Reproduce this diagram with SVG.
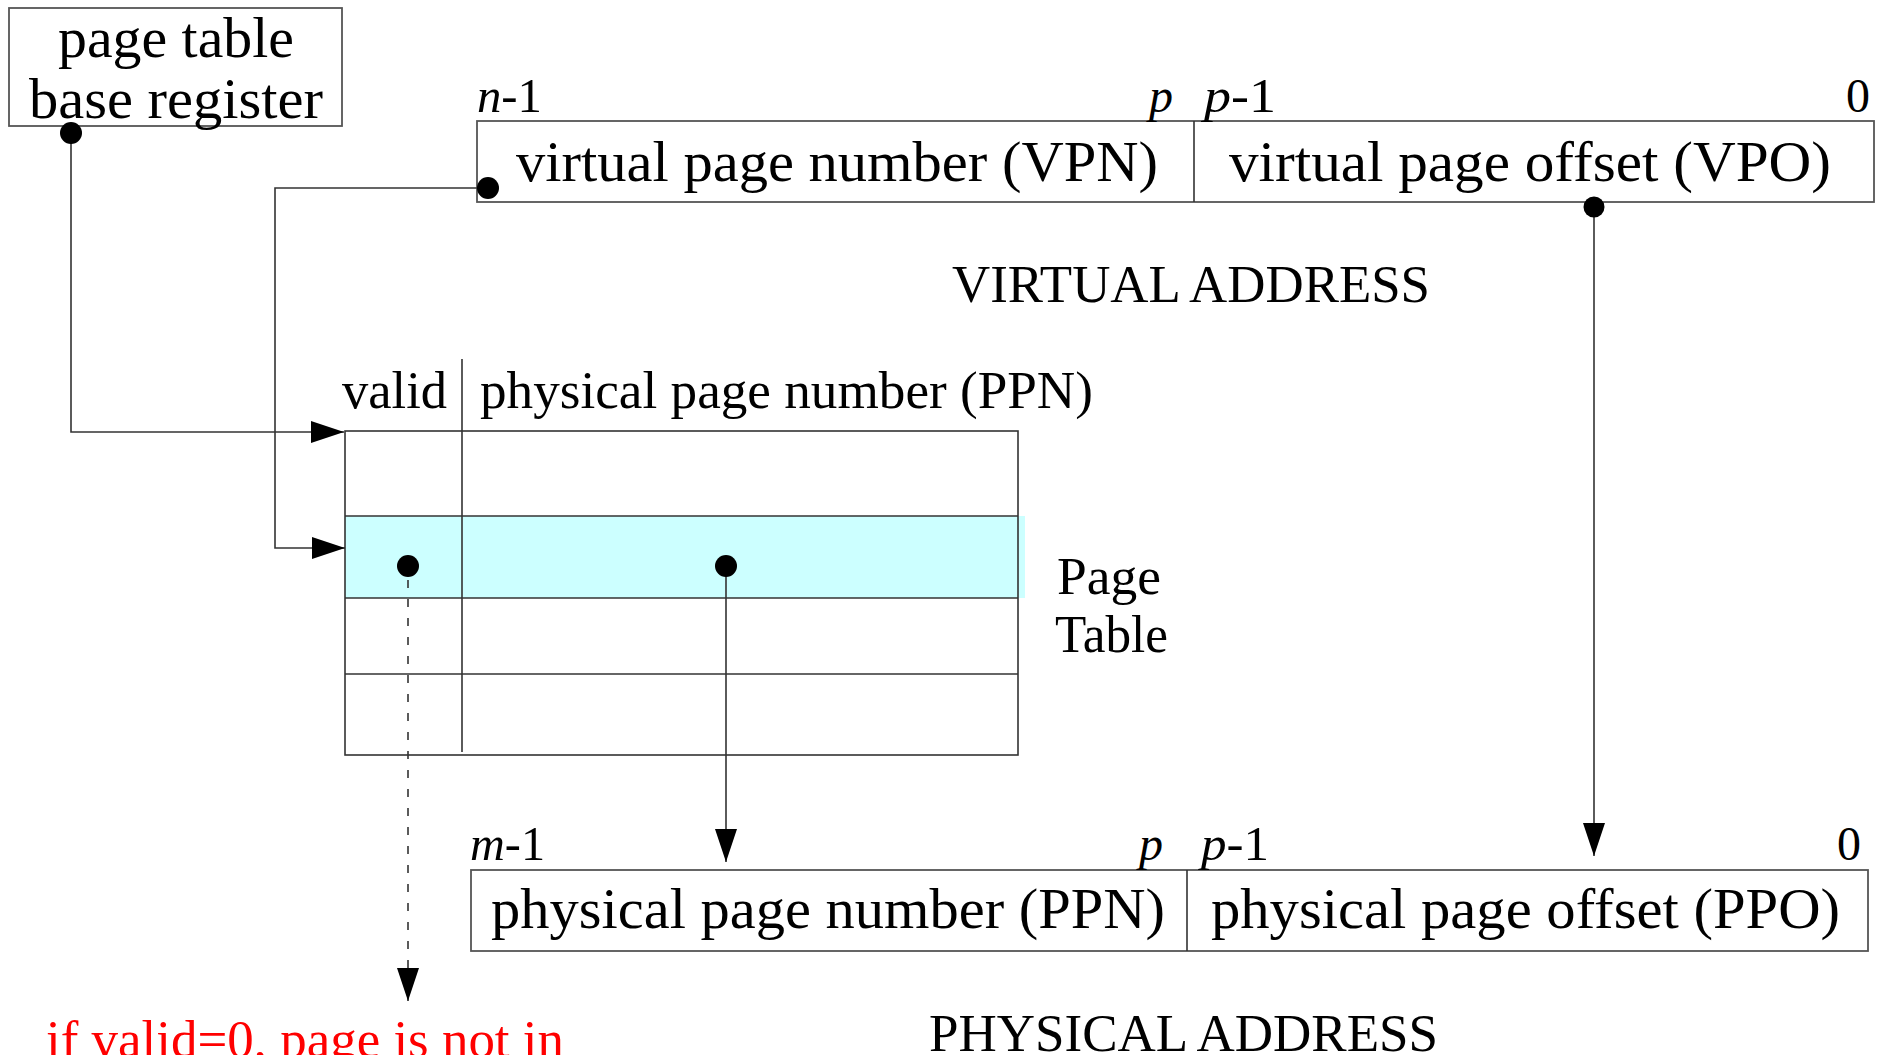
<svg xmlns="http://www.w3.org/2000/svg" width="1877" height="1055" viewBox="0 0 1877 1055">
<style>
text { font-family: "Liberation Serif", "Times New Roman", serif; fill: #000; }
.box { fill: #fff; stroke: #555; stroke-width: 1.8; }
.tline { stroke: #333; stroke-width: 1.6; fill: none; }
.conn { stroke: #333; stroke-width: 1.6; fill: none; }
.dash { stroke-dasharray: 8 11; }
.dot { fill: #000; }
.lbl { font-size: 58px; }
.bit { font-size: 48px; }
.hdr { font-size: 52px; }
.it { font-style: italic; }
</style>
<defs>
<marker id="arr" viewBox="0 0 33 22" refX="33" refY="11" markerWidth="33" markerHeight="22" markerUnits="userSpaceOnUse" orient="auto" preserveAspectRatio="none">
<path d="M0,0 L33,11 L0,22 z" fill="#000" stroke="none"/>
</marker>
</defs>
<rect width="1877" height="1055" fill="#fff"/>

<g id="ptbr">
<rect class="box" x="9" y="8" width="333" height="118"/>
<text x="176" y="57" font-size="56" text-anchor="middle" textLength="236" lengthAdjust="spacingAndGlyphs">page table</text>
<text x="176" y="118" font-size="56" text-anchor="middle" textLength="294" lengthAdjust="spacingAndGlyphs">base register</text>
</g>

<g id="virtual-address">
<rect class="box" x="477" y="121" width="1397" height="81"/>
<line class="tline" x1="1194" y1="121" x2="1194" y2="202"/>
<text class="bit" x="477" y="112" textLength="65" lengthAdjust="spacingAndGlyphs"><tspan class="it">n</tspan>-1</text>
<text class="bit it" x="1149" y="112">p</text>
<text class="bit" x="1204" y="112" textLength="72" lengthAdjust="spacingAndGlyphs"><tspan class="it">p</tspan>-1</text>
<text class="bit" x="1846" y="112">0</text>
<text class="lbl" x="516" y="181" textLength="642" lengthAdjust="spacingAndGlyphs">virtual page number (VPN)</text>
<text class="lbl" x="1229" y="181" textLength="602" lengthAdjust="spacingAndGlyphs">virtual page offset (VPO)</text>
<text x="952" y="302" font-size="53" textLength="478" lengthAdjust="spacingAndGlyphs">VIRTUAL ADDRESS</text>
</g>

<g id="page-table">
<rect x="345" y="516" width="680" height="82" fill="#ccffff"/>
<rect x="345" y="431" width="673" height="324" fill="none" stroke="#333" stroke-width="1.6"/>
<line class="tline" x1="345" y1="516" x2="1018" y2="516"/>
<line class="tline" x1="345" y1="598" x2="1018" y2="598"/>
<line class="tline" x1="345" y1="674" x2="1018" y2="674"/>
<line class="tline" x1="462" y1="359" x2="462" y2="752"/>
<text class="hdr" x="342" y="408" textLength="105" lengthAdjust="spacingAndGlyphs">valid</text>
<text class="hdr" x="480" y="408" textLength="613" lengthAdjust="spacingAndGlyphs">physical page number (PPN)</text>
<text class="hdr" x="1057" y="594" textLength="104" lengthAdjust="spacingAndGlyphs">Page</text>
<text class="hdr" x="1055" y="652" textLength="113" lengthAdjust="spacingAndGlyphs">Table</text>
</g>

<g id="physical-address">
<rect class="box" x="471" y="870" width="1397" height="81"/>
<line class="tline" x1="1187" y1="870" x2="1187" y2="951"/>
<text class="bit" x="470" y="860" textLength="75" lengthAdjust="spacingAndGlyphs"><tspan class="it">m</tspan>-1</text>
<text class="bit it" x="1139" y="860">p</text>
<text class="bit" x="1201" y="860" textLength="68" lengthAdjust="spacingAndGlyphs"><tspan class="it">p</tspan>-1</text>
<text class="bit" x="1837" y="860">0</text>
<text class="lbl" x="491" y="928" textLength="674" lengthAdjust="spacingAndGlyphs">physical page number (PPN)</text>
<text class="lbl" x="1211" y="928" textLength="629" lengthAdjust="spacingAndGlyphs">physical page offset (PPO)</text>
<text x="929" y="1051" font-size="53" textLength="509" lengthAdjust="spacingAndGlyphs">PHYSICAL ADDRESS</text>
</g>

<g id="page-fault-note">
<text x="46" y="1057" font-size="52" fill="#ff0000" style="fill:#ff0000" textLength="518" lengthAdjust="spacingAndGlyphs">if valid=0, page is not in</text>
</g>

<g id="connectors">
<path class="conn" d="M71,133 V432 H344" marker-end="url(#arr)"/>
<path class="conn" d="M488,188 H275 V548 H345" marker-end="url(#arr)"/>
<path class="conn" d="M1594,206 V856" marker-end="url(#arr)"/>
<path class="conn" d="M726,566 V862" marker-end="url(#arr)"/>
<path class="conn dash" d="M408,580 V1001" marker-end="url(#arr)"/>
<circle class="dot" cx="71" cy="133" r="11"/>
<circle class="dot" cx="488" cy="188" r="11"/>
<circle class="dot" cx="1594" cy="207" r="10.5"/>
<circle class="dot" cx="408" cy="566" r="11"/>
<circle class="dot" cx="726" cy="566" r="11"/>
</g>
</svg>
